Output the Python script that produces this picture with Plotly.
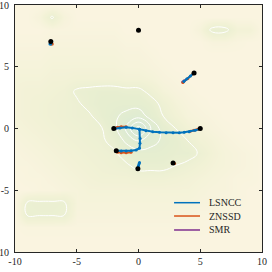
import plotly.graph_objects as go

# grid for background density (rows from y=10 down to y=-10, cols x=-10..10)
grid_x = list(range(-10, 11))
grid_y = list(range(10, -11, -1))
density = [
    [0,0,0,0,0,0,0,0,0,0,0,0,0,0,0,0,0,0,0,0,0],
    [0,0,.3,1.1,.3,0,0,0,0,0,0,0,0,0,0,0,0,0,0,0,0],
    [0,0,0,.1,.1,.1,.1,.1,.1,0,0,0,0,0,0,.3,1.2,1.2,.5,.5,0],
    [.1,.1,.1,.2,.2,.2,.2,.2,.2,.1,.1,0,0,0,0,0,.2,.2,.1,0,0],
    [.2,.2,.2,.3,.3,.3,.3,.3,.3,.2,.2,.1,0,0,0,0,0,0,0,0,0],
    [.3,.3,.3,.4,.4,.4,.4,.4,.4,.3,.3,.2,.1,0,0,0,0,0,0,0,0],
    [.4,.4,.4,.5,.5,.6,.6,.6,.6,.5,.5,.4,.2,.1,0,0,0,0,0,0,0],
    [.4,.5,.5,.6,.7,1.1,1.2,1.3,1.3,1.2,1.2,.8,.4,.2,.1,0,0,0,0,0,0],
    [.4,.5,.6,.7,.8,.9,1.2,1.4,1.5,1.6,1.6,1.3,.8,.4,.2,.1,0,0,0,0,0],
    [.4,.5,.6,.7,.8,.9,.9,1.3,1.8,2.3,2.6,1.6,1.0,.6,.3,.2,.1,0,0,0,0],
    [.3,.4,.5,.6,.7,.8,.9,.95,1.6,3.2,5.5,3.0,1.5,1.0,.6,.4,.2,.1,0,0,0],
    [.2,.3,.4,.5,.6,.7,.8,.9,1.2,2.2,3.0,2.4,1.8,1.4,1.0,.6,.4,.2,.1,0,0],
    [.1,.2,.3,.4,.5,.6,.7,.8,.9,1.3,1.6,1.6,1.5,1.3,1.3,.9,.5,.3,.2,.1,0],
    [.1,.1,.2,.3,.4,.5,.6,.7,.8,.9,1.2,1.2,1.2,1.0,.8,.6,.4,.3,.2,.1,0],
    [0,.1,.1,.2,.3,.4,.5,.6,.6,.6,.7,.7,.7,.6,.5,.4,.3,.2,.1,.1,0],
    [0,0,.1,.1,.2,.3,.4,.4,.4,.4,.4,.4,.4,.4,.4,.3,.2,.2,.1,0,0],
    [0,1.05,1.1,1.1,1.05,.3,.3,.3,.3,.3,.3,.3,.3,.3,.3,.2,.2,.1,.1,0,0],
    [0,1.05,1.05,1.05,1.0,.2,.2,.2,.2,.2,.2,.2,.2,.2,.2,.1,.1,.1,0,0,0],
    [0,.1,.1,.1,.1,.1,.1,.1,.1,.1,.1,.1,.1,.1,.1,.1,0,0,0,0,0],
    [0,0,0,0,0,0,0,0,0,0,0,0,0,0,0,0,0,0,0,0,0],
    [0,0,0,0,0,0,0,0,0,0,0,0,0,0,0,0,0,0,0,0,0],
]

# trajectories (each tuple is one track: xs, ys)
lsncc_tracks = [
    ([-7.17, -7.1], [6.85, 6.85]),
    ([3.67, 3.9, 4.2, 4.45], [3.8, 4.0, 4.25, 4.45]),
    ([-2.0, -1.5, -1.0, -0.5, 0.08, 0.6, 1.16, 1.7, 2.24, 2.8, 3.3, 3.7, 4.1, 4.6, 5.0],
     [-0.02, 0.05, 0.1, 0.05, -0.07, -0.18, -0.26, -0.31, -0.34, -0.34, -0.34, -0.3, -0.26, -0.15, -0.02]),
    ([0.08, 0.13, 0.12, 0.08, -0.19, -0.6, -1.0, -1.4, -1.76],
     [-0.07, -0.8, -1.2, -1.6, -1.74, -1.8, -1.82, -1.82, -1.8]),
    ([-0.03, 0.0, 0.05, 0.08], [-3.1, -3.0, -2.85, -2.75]),
]
znssd_tracks = [
    ([-7.06, -6.98], [6.85, 6.85]),
    ([3.6, 4.0, 4.4], [3.72, 4.05, 4.42]),
    ([-2.0, -1.7, -1.4, -1.0], [0.02, 0.1, 0.14, 0.15]),
    ([4.2, 4.5, 4.8, 5.0], [-0.22, -0.15, -0.06, 0.0]),
    ([-1.7, -1.4, -1.0, -0.6], [-1.93, -1.96, -1.96, -1.92]),
    ([2.85, 2.92], [-2.83, -2.83]),
]
smr_tracks = [
    ([3.58, 3.7], [3.76, 3.86]),
    ([-1.8, -1.5], [0.05, 0.1]),
]
true_x = [-7.1, 0.0, 4.5, -2.0, 5.0, -1.8, -0.05, 2.8]
true_y = [7.05, 7.95, 4.5, 0.0, 0.0, -1.8, -3.25, -2.8]

ticks = [-10, -5, 0, 5, 10]
tick_labels = ["-10", "-5", "0", "5", "10"]
methods = ["LSNCC", "ZNSSD", "SMR"]
method_colors = ["#0072BD", "#D95319", "#7E2F8E"]

FONT = "Liberation Serif, Times New Roman, serif"


def join(tracks):
    xs, ys = [], []
    for tx, ty in tracks:
        xs += list(tx) + [None]
        ys += list(ty) + [None]
    return xs, ys


fig = go.Figure()
fig.add_trace(go.Heatmap(
    x=grid_x, y=grid_y, z=density, zsmooth="best", zmin=0, zmax=5.5,
    colorscale=[[0, "rgb(250,244,224)"], [0.1, "rgb(242,242,214)"],
                [0.25, "rgb(231,238,208)"], [0.5, "rgb(222,235,210)"],
                [1, "rgb(212,232,216)"]],
    showscale=False, hoverinfo="skip"))
fig.add_trace(go.Contour(
    x=grid_x, y=grid_y, z=density,
    contours=dict(start=1, end=5, size=1, coloring="lines"),
    colorscale=[[0, "white"], [1, "white"]],
    line=dict(width=1, smoothing=1.3), showscale=False, hoverinfo="skip"))

track_sets = {"LSNCC": lsncc_tracks, "ZNSSD": znssd_tracks, "SMR": smr_tracks}
for name, color in reversed(list(zip(methods, method_colors))):
    xs, ys = join(track_sets[name])
    fig.add_trace(go.Scatter(x=xs, y=ys, mode="lines+markers", name=name,
                             showlegend=False,
                             line=dict(color=color, width=2),
                             marker=dict(color=color, size=3)))

fig.add_trace(go.Scatter(x=true_x, y=true_y, mode="markers", showlegend=False,
                         marker=dict(color="black", size=5)))

# custom compact legend (paper coordinates)
leg_y = [0.1996, 0.1457, 0.0891]
for name, color, ly in zip(methods, method_colors, leg_y):
    fig.add_shape(type="line", xref="paper", yref="paper",
                  x0=0.644, x1=0.749, y0=ly, y1=ly,
                  line=dict(color=color, width=1.5))
    fig.add_annotation(xref="paper", yref="paper", x=0.779, y=ly,
                       text=name, showarrow=False, xanchor="left",
                       yanchor="middle",
                       font=dict(family=FONT, size=10, color="#262626"))

axis = dict(range=[-10, 10], tickvals=ticks, ticktext=tick_labels,
            ticks="inside", ticklen=3, automargin=False,
            ticklabeloverflow="allow",
            showline=True, linecolor="#262626", linewidth=1, mirror="ticks",
            showgrid=False, zeroline=False, tickcolor="#262626",
            tickfont=dict(family=FONT, size=10, color="#262626"))
fig.update_layout(
    width=272, height=272, margin=dict(l=15, r=10, t=5, b=20, autoexpand=False),
    paper_bgcolor="white", plot_bgcolor="white",
    font=dict(family=FONT),
    xaxis=axis, yaxis=dict(axis, ticklabelstandoff=3), showlegend=False,
)
fig.write_html("out.html", config={"displayModeBar": False},
               post_script="document.body.style.margin='0';")
